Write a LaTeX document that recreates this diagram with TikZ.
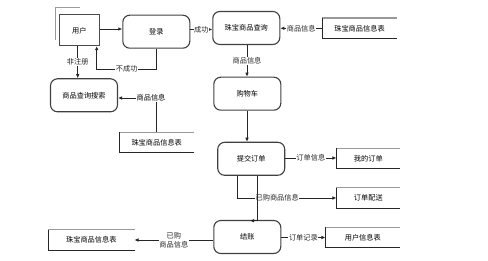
\documentclass[tikz,border=0pt]{standalone}
\usepackage{fontspec}
\newfontfamily\cjk{Noto Sans CJK SC}
\usetikzlibrary{positioning,arrows.meta,calc}
\tikzset{
  flowarrow/.style={-{Latex[length=4pt,width=3.6pt]}, line width=0.8pt, black!85},
  flowline/.style={line width=0.8pt, black!85},
  procnode/.style={draw=black!75, rounded corners=7pt, line width=1.1pt, minimum width=67pt, minimum height=33pt, align=center},
  entnode/.style={draw=black!70, line width=1.1pt, minimum width=40pt, minimum height=30.7pt},
  storenode/.style={minimum height=20pt, align=center},
  storetop/.style={line width=1.3pt, gray!80},
  storeside/.style={line width=0.9pt, black!85},
  relabel/.style={fill=white, inner sep=0.6pt, align=center}
}

\begin{document}
\begin{tikzpicture}[x=1pt, y=-1pt, every node/.style={font=\cjk\fontsize{7.2}{8.6}\selectfont}]
      \useasboundingbox (0,0) rectangle (488,261);
      % processes
      \node[entnode] (user) at (79.3,30.3) {用户};
      \node[procnode] (login) at (156.3,31.7) {登录};
      \node[procnode] (query) at (246.3,28) {珠宝商品查询};
      \node[procnode] (cart) at (247.3,93.7) {购物车};
      \node[procnode] (submit) at (251.2,158.8) {提交订单};
      \node[procnode] (pay) at (247.3,237) {结账};
      \node[procnode] (search) at (84,95.3) {商品查询搜索};
      \draw[gray!80, line width=1pt] ($(user.south west)+(-3.5,-6)$) |- ($(user.north east)+(-19.5,-6.5)$);
      % data stores
      \node[storenode, minimum width=74.4pt] (jewel1) at (359.5,28.3) {珠宝商品信息表};
      \node[storenode, minimum width=74.7pt] (jewel2) at (156.7,142.5) {珠宝商品信息表};
      \node[storenode, minimum width=63.3pt] (myorder) at (368.3,158.7) {我的订单};
      \node[storenode, minimum width=63.3pt] (ship) at (368.3,198) {订单配送};
      \node[storenode, minimum width=74.3pt] (userinfo) at (362.8,237.5) {用户信息表};
      \node[storenode, minimum width=86pt] (jewel3) at (91.3,240) {珠宝商品信息表};
      \foreach \s in {jewel1,jewel2,myorder,ship,userinfo,jewel3} {
        \draw[storetop] (\s.north west) -- (\s.north east);
        \draw[storeside] (\s.north west) |- (\s.south east);
      }
      % flows
      \draw[flowarrow] (user.east |- 0,29) -- (login.west |- 0,29);
      \draw[flowarrow] (login.east |- 0,29.5) -- node[relabel] {成功} (query.west |- 0,29.5);
      \draw[flowarrow] (jewel1.west) -- node[relabel] {商品信息} (query.east |- jewel1.west);
      \draw[flowarrow] (query.south -| 247,0) -- node[relabel] {商品信息} (cart.north -| 247,0);
      \draw[flowarrow] (cart.south -| 247,0) -- (submit.north -| 247,0);
      \draw[flowarrow] (submit.east |- 0,158) -- node[relabel] {订单信息} (myorder.west |- 0,158);
      \draw[flowarrow] (submit.south -| 237.7,0) |- node[relabel, pos=0.7] {已购商品信息} (ship.west);
      \draw[flowarrow] (submit.south -| 257.7,0) -- (257.7,220.7) -- (250,220.7);
      \draw[flowarrow] (pay.east |- userinfo.west) -- node[relabel] {订单记录} (userinfo.west);
      \draw[flowarrow] (pay.west |- jewel3.east) -- node[relabel] {已购\\商品信息} (jewel3.east);
      \draw[flowline] (jewel2.north -| 156.7,0) -- (156.7,98);
      \draw[flowarrow] (156.7,98) -- (search.east |- 0,98);
      \node[relabel] (srclabel) at (151,98) {商品信息};
      \draw[flowarrow] (user.south -| 77.7,0) -- node[relabel] {非注册} (search.north -| 77.7,0);
      \draw[flowarrow] (login.south -| 156.7,0) |- node[relabel, pos=0.75] {不成功} (96.7,69) -- (user.south -| 96.7,0);
    \end{tikzpicture}
\end{document}
